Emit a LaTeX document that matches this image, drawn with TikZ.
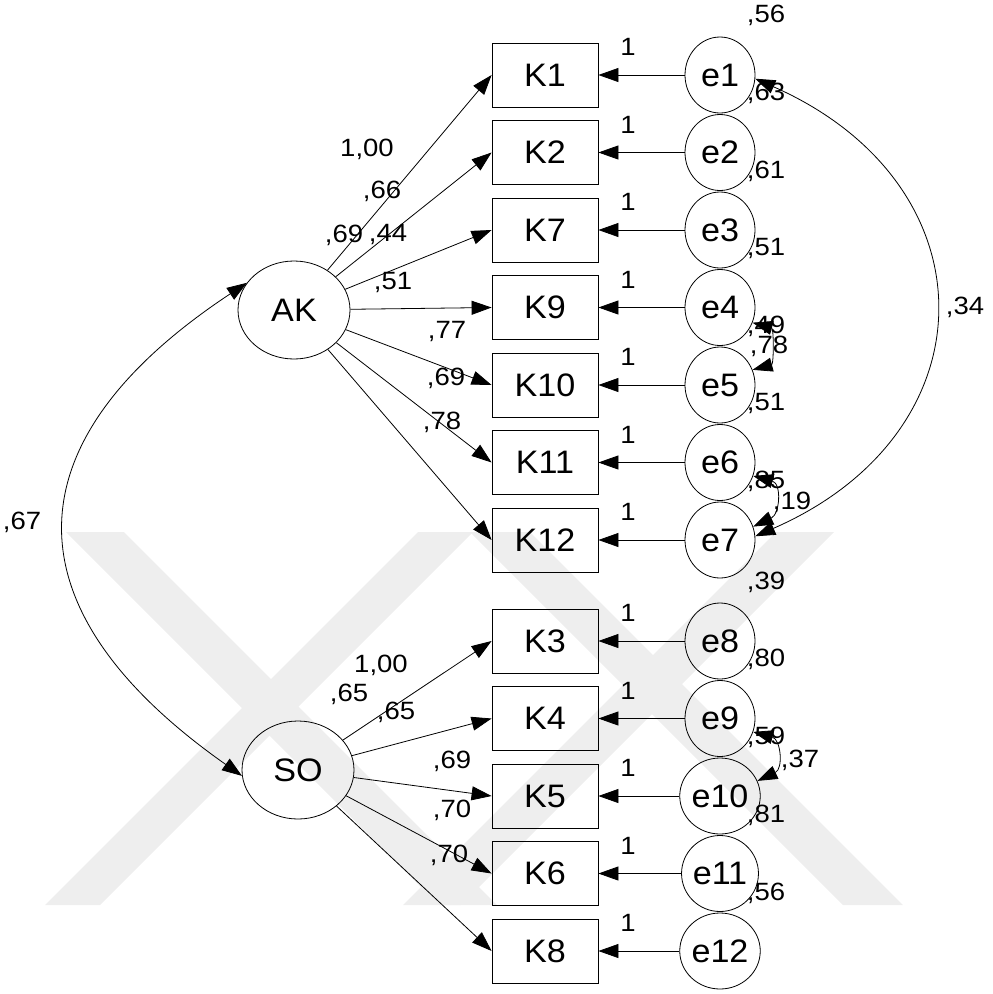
\documentclass[tikz,border=0pt]{standalone}
\usepackage{fontspec}
\setmainfont{Liberation Sans}
\newfontfamily\numfam{Liberation Sans}[FakeStretch=1.1]
\newfontfamily\namefam{Liberation Sans}[FakeStretch=1.05]
\usetikzlibrary{arrows.meta,shapes.geometric}
\newcommand{\namefont}{\namefam\fontsize{32.5}{36}\selectfont}
\newcommand{\numfont}{\numfam\fontsize{25}{28}\selectfont}
\definecolor{wmark}{HTML}{EEEEEE}
\begin{document}
\begin{tikzpicture}[x=1pt,y=-1pt,
  obs/.style={draw, line width=0.8pt, minimum width=106pt, minimum height=64pt, inner sep=0pt, font=\namefont},
  err/.style={draw, ellipse, line width=0.8pt, minimum width=70pt, minimum height=76pt, inner sep=0pt, font=\namefont},
  lat/.style={draw, ellipse, line width=0.8pt, minimum width=112pt, minimum height=98pt, inner sep=0pt, font=\namefont},
  num/.style={inner sep=0pt, font=\numfont},
  tip/.tip={Triangle[length=20pt,width=14pt]},
  path/.style={-tip, line width=0.8pt},
  cov/.style={tip-tip, line width=0.8pt}]
\useasboundingbox (0,0) rectangle (993,994);

% faint background emblem
\begin{scope}
  \clip (0,532) rectangle (993,905);
  \fill[wmark] (66,532) -- (124,532) -- (497,905) -- (439,905) -- cycle;
  \fill[wmark] (45,905) -- (100,905) -- (473,532) -- (418,532) -- cycle;
  \fill[wmark] (470,532) -- (530,532) -- (903,905) -- (843,905) -- cycle;
  \fill[wmark] (776,532) -- (834,532) -- (461,905) -- (403,905) -- cycle;
\end{scope}

% latent variables
\node[lat] (AK) at (294,310) {AK};
\node[lat] (SO) at (298,770) {SO};

% indicators and their error terms
\foreach \k/\e/\y in {K1/e1/75, K2/e2/152.5, K7/e3/230, K9/e4/307.5, K10/e5/385, K11/e6/462.5, K12/e7/540,
                      K3/e8/641, K4/e9/718.5, K5/e10/796, K6/e11/873.5, K8/e12/951}{
  \node[obs] (\k) at (545,\y) {\k};
  \node[err] (\e) at (720,\y) {\e};
  \node[num] at (628,\y-28) {1};
}

% variances of the error terms
\foreach \y/\v in {15/56, 93/63, 171/61, 248/51, 326/49, 403/51, 481/85,
                   582/39, 659/80, 737/59, 815/81, 893/56}{
  \node[num] at (766,\y) {,\v};
}

% variances of the latent variables
\node[num] at (344,235) {,69};
\node[num] at (349,694) {,65};

% loadings
\node[num] at (367,149) {1,00};
\node[num] at (382,191) {,66};
\node[num] at (388,234) {,44};
\node[num] at (393,282) {,51};
\node[num] at (447,331) {,77};
\node[num] at (446,378) {,69};
\node[num] at (442,422) {,78};
\node[num] at (381,665) {1,00};
\node[num] at (396,712) {,65};
\node[num] at (452,761) {,69};
\node[num] at (452,810) {,70};
\node[num] at (449,855) {,70};

% covariances
\node[num] at (22,522) {,67};
\node[num] at (965,307) {,34};
\node[num] at (769,346) {,78};
\node[num] at (792,502) {,19};
\node[num] at (800,760) {,37};

% paths from the latent variables
\foreach \k in {K1,K2,K7,K9,K10,K11,K12}{\draw[path] (AK) -- (\k.west);}
\foreach \k in {K3,K4,K5,K6,K8}{\draw[path] (SO) -- (\k.west);}

% error paths
\foreach \k/\e in {K1/e1,K2/e2,K7/e3,K9/e4,K10/e5,K11/e6,K12/e7,K3/e8,K4/e9,K5/e10,K6/e11,K8/e12}{
  \draw[path] (\e.west) -- (\k.east);
}

% covariance arcs
\draw[cov] (AK.150) .. controls (6,442) and (6,610) .. (SO.186);
\draw[cov] (e1.-6) .. controls (994,184) and (994,432) .. (e7.6);
\draw[cov] (e4.-25) to[out=-15,in=15,looseness=1.2] (e5.25);
\draw[cov] (e6.-22) to[out=-15,in=25,looseness=1.5] (e7.22);
\draw[cov] (e9.-22) to[out=-15,in=25,looseness=1.5] (e10.22);
\end{tikzpicture}
\end{document}
